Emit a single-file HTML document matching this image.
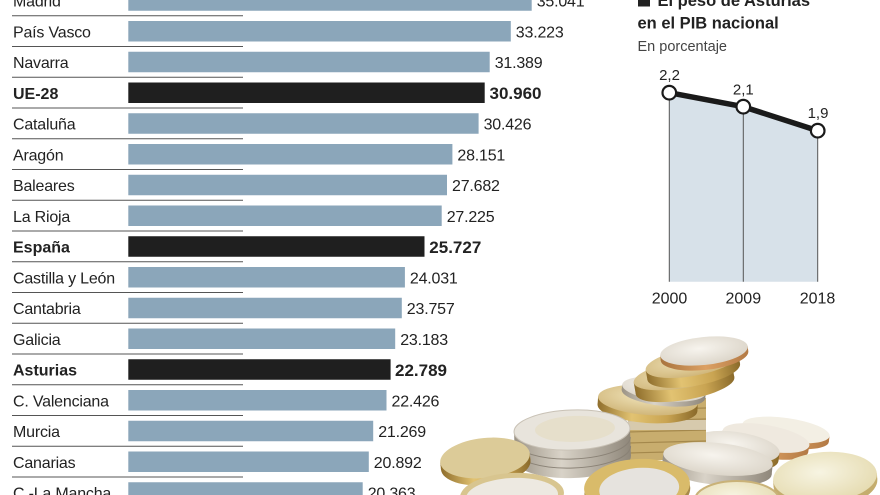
<!DOCTYPE html>
<html><head><meta charset="utf-8">
<style>
html,body{margin:0;padding:0;background:#fff;width:880px;height:495px;overflow:hidden;}
svg{display:block;overflow:hidden;}
text{font-family:"Liberation Sans",sans-serif;fill:#222;}
.lb{font-size:16px;letter-spacing:-0.2px;}
.lbb{font-size:16px;font-weight:bold;}
.v{font-size:16px;letter-spacing:-0.2px;}
.vb{font-size:17px;font-weight:bold;}
</style></head>
<body>
<svg width="880" height="495" viewBox="0 0 880 495" xmlns="http://www.w3.org/2000/svg">
<defs>
<linearGradient id="gold" x1="0" x2="1" y1="0" y2="0">
<stop offset="0" stop-color="#8f6e2c"/><stop offset="0.35" stop-color="#e2c372"/><stop offset="0.7" stop-color="#c9a452"/><stop offset="1" stop-color="#8a6a2a"/></linearGradient>
<linearGradient id="silv" x1="0" x2="1" y1="0" y2="0">
<stop offset="0" stop-color="#9b9385"/><stop offset="0.4" stop-color="#d9d3c8"/><stop offset="1" stop-color="#8f877a"/></linearGradient>
<linearGradient id="copp" x1="0" x2="1" y1="0" y2="0">
<stop offset="0" stop-color="#a9743e"/><stop offset="0.5" stop-color="#dca063"/><stop offset="1" stop-color="#b37a45"/></linearGradient>
<radialGradient id="stop" cx="0.45" cy="0.4" r="0.7">
<stop offset="0" stop-color="#f7f4ee"/><stop offset="1" stop-color="#d8d1c4"/></radialGradient>
<radialGradient id="gtop" cx="0.45" cy="0.4" r="0.7">
<stop offset="0" stop-color="#efe2b8"/><stop offset="1" stop-color="#ccb071"/></radialGradient>
<radialGradient id="ptop" cx="0.45" cy="0.4" r="0.7">
<stop offset="0" stop-color="#f7f4e2"/><stop offset="1" stop-color="#e3d8aa"/></radialGradient>
</defs>

<!-- separator lines -->
<g stroke="#555" stroke-width="1">
<line x1="12" x2="243" y1="15.7" y2="15.7"/>
<line x1="12" x2="243" y1="46.45" y2="46.45"/>
<line x1="12" x2="243" y1="77.2" y2="77.2"/>
<line x1="12" x2="243" y1="107.95" y2="107.95"/>
<line x1="12" x2="243" y1="138.7" y2="138.7"/>
<line x1="12" x2="243" y1="169.45" y2="169.45"/>
<line x1="12" x2="243" y1="200.2" y2="200.2"/>
<line x1="12" x2="243" y1="230.95" y2="230.95"/>
<line x1="12" x2="243" y1="261.7" y2="261.7"/>
<line x1="12" x2="243" y1="292.45" y2="292.45"/>
<line x1="12" x2="243" y1="323.2" y2="323.2"/>
<line x1="12" x2="243" y1="353.95" y2="353.95"/>
<line x1="12" x2="243" y1="384.7" y2="384.7"/>
<line x1="12" x2="243" y1="415.45" y2="415.45"/>
<line x1="12" x2="243" y1="446.2" y2="446.2"/>
<line x1="12" x2="243" y1="476.95" y2="476.95"/>
</g>

<!-- bars -->
<g fill="#8ba6ba">
<rect x="128.3" y="-9.75" width="403.4" height="20.5"/>
<rect x="128.3" y="21" width="382.5" height="20.5"/>
<rect x="128.3" y="51.75" width="361.4" height="20.5"/>
<rect x="128.3" y="113.25" width="350.3" height="20.5"/>
<rect x="128.3" y="144" width="324.1" height="20.5"/>
<rect x="128.3" y="174.75" width="318.7" height="20.5"/>
<rect x="128.3" y="205.5" width="313.4" height="20.5"/>
<rect x="128.3" y="267" width="276.6" height="20.5"/>
<rect x="128.3" y="297.75" width="273.5" height="20.5"/>
<rect x="128.3" y="328.5" width="266.9" height="20.5"/>
<rect x="128.3" y="390" width="258.2" height="20.5"/>
<rect x="128.3" y="420.75" width="244.9" height="20.5"/>
<rect x="128.3" y="451.5" width="240.5" height="20.5"/>
<rect x="128.3" y="482.25" width="234.4" height="12.75"/>
</g>
<g fill="#1f1f1f">
<rect x="128.3" y="82.5" width="356.4" height="20.5"/>
<rect x="128.3" y="236.25" width="296.2" height="20.5"/>
<rect x="128.3" y="359.25" width="262.3" height="20.5"/>
</g>

<!-- labels -->
<text class="lb" x="13" y="6.55">Madrid</text>
<text class="lb" x="13" y="37.3">País Vasco</text>
<text class="lb" x="13" y="68.05">Navarra</text>
<text class="lbb" x="13" y="98.8">UE-28</text>
<text class="lb" x="13" y="129.55">Cataluña</text>
<text class="lb" x="13" y="160.3">Aragón</text>
<text class="lb" x="13" y="191.05">Baleares</text>
<text class="lb" x="13" y="221.8">La Rioja</text>
<text class="lbb" x="13" y="252.55">España</text>
<text class="lb" x="13" y="283.3">Castilla y León</text>
<text class="lb" x="13" y="314.05">Cantabria</text>
<text class="lb" x="13" y="344.8">Galicia</text>
<text class="lbb" x="13" y="375.55">Asturias</text>
<text class="lb" x="13" y="406.3">C. Valenciana</text>
<text class="lb" x="13" y="437.05">Murcia</text>
<text class="lb" x="13" y="467.8">Canarias</text>
<text class="lb" x="13" y="498.55">C.-La Mancha</text>

<!-- values -->
<text class="v" x="536.7" y="6.55">35.041</text>
<text class="v" x="515.8" y="37.3">33.223</text>
<text class="v" x="494.7" y="68.05">31.389</text>
<text class="vb" x="489.5" y="99">30.960</text>
<text class="v" x="483.6" y="129.55">30.426</text>
<text class="v" x="457.4" y="160.3">28.151</text>
<text class="v" x="452" y="191.05">27.682</text>
<text class="v" x="446.7" y="221.8">27.225</text>
<text class="vb" x="429.3" y="252.8">25.727</text>
<text class="v" x="409.9" y="283.3">24.031</text>
<text class="v" x="406.8" y="314.05">23.757</text>
<text class="v" x="400.2" y="344.8">23.183</text>
<text class="vb" x="395" y="375.8">22.789</text>
<text class="v" x="391.5" y="406.3">22.426</text>
<text class="v" x="378.2" y="437.05">21.269</text>
<text class="v" x="373.8" y="467.8">20.892</text>
<text class="v" x="367.7" y="498.55">20.363</text>

<!-- right chart title -->
<rect x="638" y="-6" width="12" height="12.5" fill="#222"/>
<text x="657.5" y="6" style="font-size:16.5px;font-weight:bold;">El peso de Asturias</text>
<text x="637.5" y="28.3" style="font-size:16.5px;font-weight:bold;">en el PIB nacional</text>
<text x="637.5" y="51" style="font-size:14.5px;fill:#444;">En porcentaje</text>

<!-- area -->
<polygon points="669.3,92.7 743.3,106.7 817.7,130.7 817.7,281.7 669.3,281.7" fill="#d7e1e9"/>
<g stroke="#555" stroke-width="1">
<line x1="669.3" x2="669.3" y1="92.7" y2="281.7"/>
<line x1="743.3" x2="743.3" y1="106.7" y2="281.7"/>
<line x1="817.7" x2="817.7" y1="130.7" y2="281.7"/>
</g>
<polyline points="669.3,92.7 743.3,106.7 817.7,130.7" fill="none" stroke="#1a1a1a" stroke-width="5.5" stroke-linejoin="round"/>
<g fill="#fff" stroke="#1a1a1a" stroke-width="2.2">
<circle cx="669.3" cy="92.7" r="6.8"/>
<circle cx="743.3" cy="106.7" r="6.8"/>
<circle cx="817.7" cy="130.7" r="6.8"/>
</g>
<g style="font-size:15px;" text-anchor="middle">
<text x="669.5" y="80">2,2</text>
<text x="743.3" y="94.5">2,1</text>
<text x="818" y="118">1,9</text>
</g>
<g style="font-size:16px;" text-anchor="middle">
<text x="669.5" y="303.3">2000</text>
<text x="743.3" y="303.3">2009</text>
<text x="817.5" y="303.3">2018</text>
</g>

<!-- coins -->
<g transform="translate(786,430) rotate(8)">
<ellipse cx="0" cy="6" rx="44" ry="12" fill="url(#copp)"/><rect x="-44" y="0" width="88" height="6" fill="url(#copp)"/>
<ellipse cx="0" cy="0" rx="44" ry="12" fill="#f3efe4"/></g>
<g transform="translate(766,438) rotate(10)">
<ellipse cx="0" cy="7" rx="44" ry="13" fill="url(#copp)"/><rect x="-44" y="0" width="88" height="7" fill="url(#copp)"/>
<ellipse cx="0" cy="0" rx="44" ry="13" fill="#efe9df"/></g>
<g transform="translate(736,447) rotate(8)">
<ellipse cx="0" cy="8" rx="44" ry="15" fill="url(#gold)"/><rect x="-44" y="0" width="88" height="8" fill="url(#gold)"/>
<ellipse cx="0" cy="0" rx="44" ry="15" fill="url(#stop)"/></g>

<rect x="628" y="398" width="78" height="62" fill="#c8ad6e"/>
<g stroke="#9c7f44" stroke-width="1.2" opacity="0.8">
<line x1="628" x2="706" y1="410" y2="408"/><line x1="628" x2="706" y1="421" y2="419"/>
<line x1="628" x2="706" y1="432" y2="430"/><line x1="628" x2="706" y1="443" y2="441"/>
<line x1="628" x2="706" y1="453" y2="451"/></g>
<rect x="628" y="420" width="78" height="10" fill="#ddd6c8" opacity="0.7"/>

<g transform="translate(648,400) rotate(4)">
<ellipse cx="0" cy="8" rx="50" ry="15" fill="url(#gold)"/><rect x="-50" y="0" width="100" height="8" fill="url(#gold)"/>
<ellipse cx="0" cy="0" rx="50" ry="15" fill="url(#gtop)"/></g>
<g transform="translate(664,389) rotate(6)">
<ellipse cx="0" cy="5" rx="42" ry="12" fill="url(#silv)"/><rect x="-42" y="0" width="84" height="5" fill="url(#silv)"/>
<ellipse cx="0" cy="0" rx="42" ry="12" fill="url(#stop)"/></g>
<g transform="translate(683,374) rotate(-10)">
<ellipse cx="0" cy="12" rx="50" ry="14" fill="url(#gold)"/><rect x="-50" y="0" width="100" height="12" fill="url(#gold)"/>
<ellipse cx="0" cy="0" rx="50" ry="14" fill="url(#gtop)"/></g>
<g transform="translate(692,362) rotate(-10)">
<ellipse cx="0" cy="10" rx="47" ry="14" fill="url(#gold)"/><rect x="-47" y="0" width="94" height="10" fill="url(#gold)"/>
<ellipse cx="0" cy="0" rx="47" ry="14" fill="url(#gtop)"/></g>
<g transform="translate(704,351) rotate(-6)">
<ellipse cx="0" cy="5" rx="44" ry="14" fill="url(#copp)"/><rect x="-44" y="0" width="88" height="5" fill="url(#copp)"/>
<ellipse cx="0" cy="0" rx="44" ry="14" fill="url(#stop)"/></g>

<g transform="translate(572,430) rotate(-2)">
<ellipse cx="0" cy="28" rx="58" ry="20" fill="url(#silv)"/><rect x="-58" y="0" width="116" height="28" fill="url(#silv)"/>
<g stroke="#8a8276" stroke-width="1"><path d="M-58 9 A58 20 0 0 0 58 9" fill="none"/><path d="M-58 18 A58 20 0 0 0 58 18" fill="none"/></g>
<ellipse cx="0" cy="0" rx="58" ry="20" fill="#e8e4dc" stroke="#c9c2b6" stroke-width="1"/>
<ellipse cx="3" cy="-1" rx="40" ry="13" fill="#e6dfcb"/></g>

<g transform="translate(718,459) rotate(6)">
<ellipse cx="0" cy="10" rx="55" ry="16" fill="url(#silv)"/><rect x="-55" y="0" width="110" height="10" fill="url(#silv)"/>
<ellipse cx="0" cy="0" rx="55" ry="16" fill="url(#stop)"/></g>

<g transform="translate(485,458) rotate(-6)">
<ellipse cx="0" cy="7" rx="45" ry="20" fill="url(#gold)"/><rect x="-45" y="0" width="90" height="7" fill="url(#gold)"/>
<ellipse cx="0" cy="0" rx="45" ry="20" fill="#dccb98"/></g>

<g transform="translate(825,477) rotate(-4)">
<ellipse cx="0" cy="6" rx="52" ry="25" fill="#c4ad6e"/><rect x="-52" y="0" width="104" height="6" fill="#c4ad6e"/>
<ellipse cx="0" cy="0" rx="52" ry="25" fill="url(#ptop)"/></g>

<g transform="translate(737,500)">
<ellipse cx="0" cy="0" rx="42" ry="19" fill="url(#ptop)" stroke="#c9b278" stroke-width="2"/></g>

<g transform="translate(637,486) rotate(-4)">
<ellipse cx="0" cy="5" rx="53" ry="27" fill="#a88a4a"/>
<ellipse cx="0" cy="0" rx="53" ry="27" fill="#d9bb6a"/>
<ellipse cx="2" cy="3" rx="40" ry="21" fill="#e6e3de"/></g>

<g transform="translate(512,495) rotate(-3)">
<ellipse cx="0" cy="0" rx="52" ry="22" fill="#d8c58f"/>
<ellipse cx="0" cy="1" rx="46" ry="18" fill="#ede9e1"/></g>
</svg>
</body></html>
